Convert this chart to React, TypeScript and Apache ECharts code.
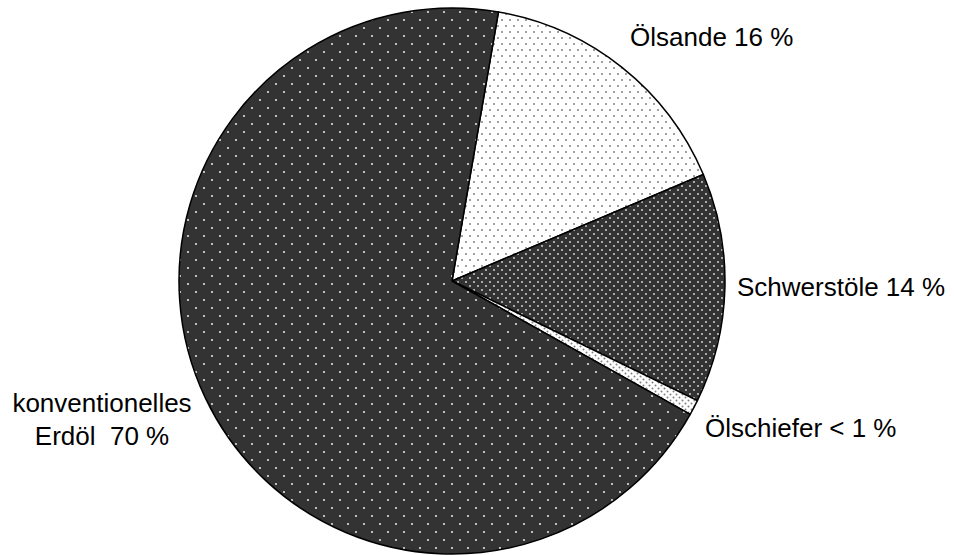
import React, { useEffect, useRef } from 'react';
import * as echarts from 'echarts';

const categories = ['Ölsande', 'Schwerstöle', 'Ölschiefer', 'konventionelles Erdöl'];
const shares = [15.9, 13.6, 0.9, 69.6];
const labelTexts = ['Ölsande 16 %', 'Schwerstöle 14 %', 'Ölschiefer < 1 %', 'konventionelles\nErdöl  70 %'];

// label anchor placement (style, not data)
const labelAnchors: [number, number, string][] = [
  [630, 37, 'left'],
  [737, 287, 'left'],
  [705, 428, 'left'],
  [102, 419, 'center'],
];

function makeTile(w: number, h: number, bg: string, dot: string, dots: [number, number][], r: number) {
  const c = document.createElement('canvas');
  c.width = w;
  c.height = h;
  const ctx = c.getContext('2d')!;
  ctx.fillStyle = bg;
  ctx.fillRect(0, 0, w, h);
  ctx.fillStyle = dot;
  dots.forEach(([x, y]) => {
    ctx.beginPath();
    ctx.arc(x, y, r, 0, Math.PI * 2);
    ctx.fill();
  });
  return { image: c.toDataURL(), repeat: 'repeat', imageWidth: w, imageHeight: h };
}

export default function App() {
  const ref = useRef<HTMLDivElement>(null);
  useEffect(() => {
    if (!ref.current) return;
    const chart = echarts.init(ref.current, undefined, { renderer: 'svg' });
    const patterns = [
      makeTile(8, 12, '#ffffff', '#808080', [[2, 2], [6, 8]], 1.0),
      makeTile(8, 8, '#333333', '#d0d0d0', [[2, 2], [6, 6]], 1.0),
      makeTile(6, 6, '#ffffff', '#808080', [[1.5, 1.5], [4.5, 4.5]], 1.0),
      makeTile(16, 16, '#333333', '#e0e0e0', [[4, 4], [12, 12]], 1.1),
    ];
    chart.setOption({
      animation: false,
      series: [
        {
          type: 'pie',
          center: [452, 281],
          radius: 273,
          startAngle: 80.2,
          clockwise: true,
          avoidLabelOverlap: false,
          emphasis: { disabled: true },
          data: categories.map((name, i) => ({
            name,
            value: shares[i],
            itemStyle: { color: patterns[i] as any },
          })),
          itemStyle: { borderColor: '#000', borderWidth: 1.5 },
          label: {
            show: true,
            position: 'outside',
            formatter: (p: any) => labelTexts[p.dataIndex],
            color: '#000',
            fontFamily: '"Liberation Sans", Arial, sans-serif',
            fontSize: 26,
            lineHeight: 33,
          },
          labelLine: { show: false },
          labelLayout: (p: any) => {
            const a = labelAnchors[p.dataIndex];
            return { x: a[0], y: a[1], align: a[2], verticalAlign: 'middle' };
          },
        },
      ],
    });
    return () => chart.dispose();
  }, []);
  return (
    <div
      ref={ref}
      style={{ position: 'absolute', left: 0, top: 0, width: 954, height: 555, background: '#fff' }}
    />
  );
}
